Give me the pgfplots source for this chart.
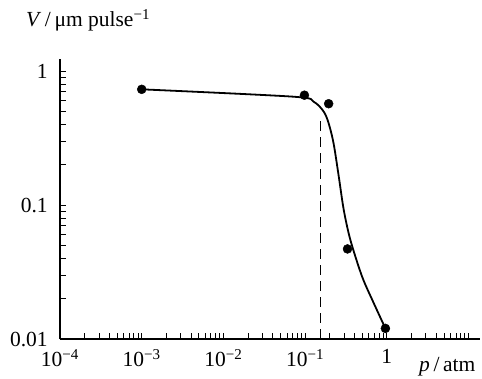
\documentclass[border=0pt]{standalone}
\usepackage{fontspec}
\setmainfont{Liberation Serif}
\usepackage{pgfplots}
\pgfplotsset{compat=1.18}
\begin{document}
\fontsize{21.5}{26}\selectfont
\begin{tikzpicture}[x=1pt,y=1pt]
\useasboundingbox (0,0) rectangle (482,378);
\begin{axis}[
  at={(60pt,39pt)}, anchor=south west,
  width=420pt, height=280pt, scale only axis,
  xmode=log, ymode=log,
  xmin=1e-4, xmax=13.8, ymin=0.01, ymax=1.229,
  axis x line*=bottom, axis y line*=left,
  axis line style={-, line width=1.2pt},
  tick align=inside,
  major tick length=6.5pt, minor tick length=6.5pt,
  tick style={line width=0.8pt, black},
  xtick={1e-4,1e-3,1e-2,1e-1,1,10},
  xticklabels={10\textsuperscript{−4},10\textsuperscript{−3},10\textsuperscript{−2},10\textsuperscript{−1},1,},
  minor xtick={2e-4,3e-4,4e-4,5e-4,6e-4,7e-4,8e-4,9e-4,
               2e-3,3e-3,4e-3,5e-3,6e-3,7e-3,8e-3,9e-3,
               2e-2,3e-2,4e-2,5e-2,6e-2,7e-2,8e-2,9e-2,
               0.2,0.3,0.4,0.5,0.6,0.7,0.8,0.9,
               2,3,4,5,6,7,8,9},
  ytick={0.01,0.1,1}, yticklabels={0.01,0.1,1},
  minor ytick={0.02,0.03,0.04,0.05,0.06,0.07,0.08,0.09,
               0.2,0.3,0.4,0.5,0.6,0.7,0.8,0.9},
  every tick label/.append style={font=\fontsize{21.5}{26}\selectfont},
  xticklabel style={yshift=-3pt},
  yticklabel style={xshift=-5pt},
  clip=false,
]
% fitted curve
\addplot[black, line width=1.8pt, smooth, tension=0.5] coordinates {
  (0.001,0.730) (0.0723,0.643) (0.127,0.590) (0.169,0.497) (0.194,0.407)
  (0.223,0.288) (0.258,0.163) (0.297,0.0918) (0.358,0.0548) (0.498,0.0292)
  (0.692,0.0185) (0.96,0.0120)
};
% critical pressure
\addplot[black, line width=1pt, dash pattern=on 10pt off 6pt] coordinates {
  (0.153,0.42) (0.153,0.01)
};
% measured points
\addplot[only marks, mark=*, mark size=4.5pt, black] coordinates {
  (0.001,0.73) (0.098,0.66) (0.194,0.57) (0.33,0.047) (0.96,0.012)
};
\end{axis}
\node[anchor=base west, inner sep=0pt] at (26,351) {\textit{V}\,/\,μm pulse\textsuperscript{−1}};
\node[anchor=base west, inner sep=0pt] at (419,7) {\textit{p}\,/\,atm};
\end{tikzpicture}
\end{document}
